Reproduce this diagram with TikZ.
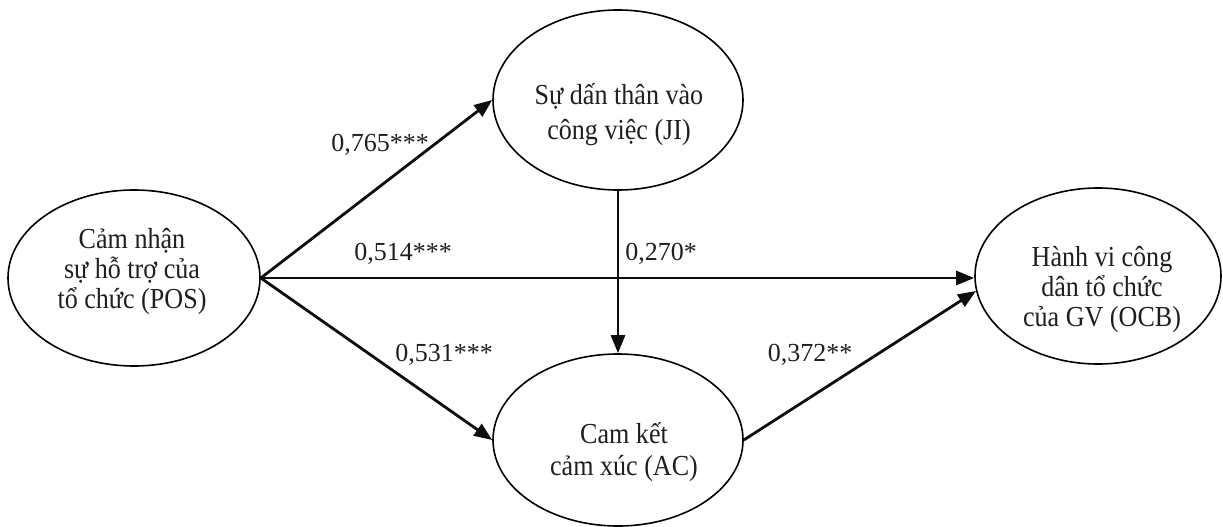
\documentclass[tikz,border=0pt]{standalone}
\usepackage{fontspec}
\setmainfont{Liberation Serif}
\newfontfamily\latfont{Liberation Serif}[FakeStretch=0.9]
\usetikzlibrary{shapes.geometric,arrows.meta}
\begin{document}
\lineskiplimit=-100pt
\begin{tikzpicture}[x=1pt,y=-1pt,
  lat/.style={ellipse,draw=black,line width=1.6pt,inner sep=0pt},
  lattext/.style={anchor=base,inner sep=0pt,align=center,text=black!88},
  pathline/.style={line width=2.8pt,draw=black!95,-{Triangle[length=18pt,width=14pt]}},
  coef/.style={anchor=base,font=\fontsize{26}{30}\selectfont,inner sep=0pt,text=black!88}]
\useasboundingbox (0,0) rectangle (1223,527);
\node[lat,minimum width=252pt,minimum height=176pt] (POS) at (134,278) {};
\node[lat,minimum width=250pt,minimum height=180pt] (JI) at (618,100) {};
\node[lat,minimum width=250pt,minimum height=172pt] (AC) at (618,440) {};
\node[lat,minimum width=246pt,minimum height=176pt] (OCB) at (1098,276) {};
\node[lattext,font=\latfont\fontsize{29}{30}\selectfont] (POS-t) at (132,308) {Cảm nhận\\sự hỗ trợ của\\tổ chức (POS)};
\node[lattext,font=\latfont\fontsize{29}{35}\selectfont] (JI-t) at (619,139) {Sự dấn thân vào\\công việc (JI)};
\node[lattext,font=\latfont\fontsize{29}{32}\selectfont] (AC-t) at (624,475) {Cam kết\\cảm xúc (AC)};
\node[lattext,font=\latfont\fontsize{29}{30}\selectfont] (OCB-t) at (1102,326) {Hành vi công\\dân tổ chức\\của GV (OCB)};
\draw[pathline] (POS.east) -- (JI.west);
\draw[pathline] (POS.east) -- (AC.west);
\draw[pathline] (POS.east) -- (POS.east -| OCB.west);
\draw[pathline] (JI.south) -- (AC.north);
\draw[pathline] (AC.east) -- (OCB.187);
\node[coef] (c1) at (380,151.7) {0,765***};
\node[coef] (c2) at (403,260) {0,514***};
\node[coef] (c3) at (444,361.7) {0,531***};
\node[coef] (c4) at (661,260) {0,270*};
\node[coef] (c5) at (810,361.7) {0,372**};
\end{tikzpicture}
\end{document}
